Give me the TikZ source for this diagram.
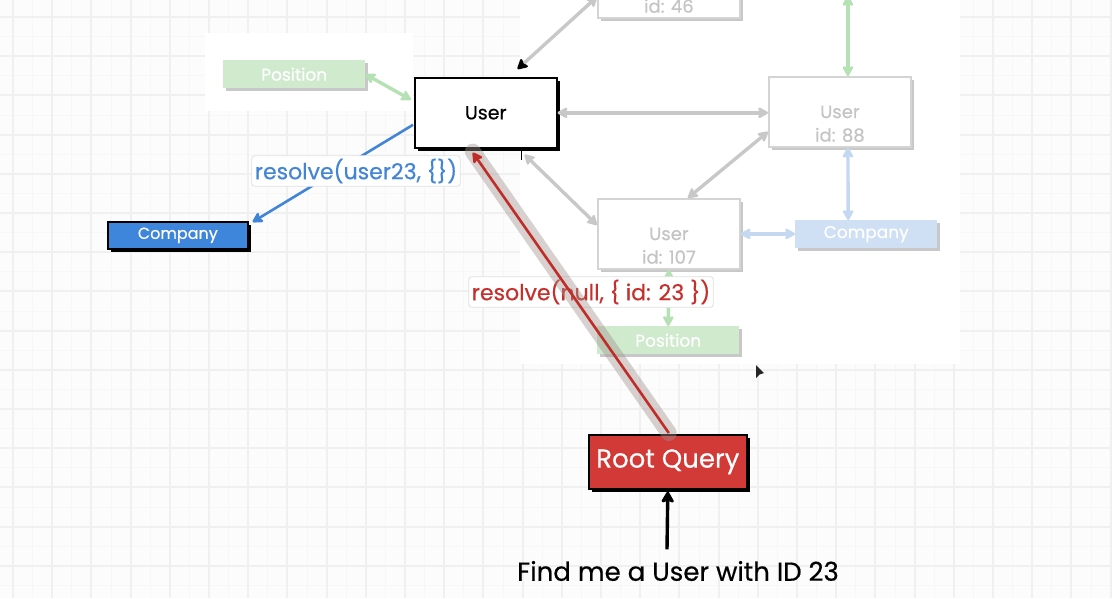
\documentclass[tikz,border=0pt]{standalone}
\usepackage{fontspec}
\setmainfont{Poppins}[FakeBold=0.45]
\usetikzlibrary{arrows.meta,calc}

\definecolor{bgpaper}{RGB}{252,252,252}
\definecolor{gridmajor}{RGB}{240,240,240}
\definecolor{gridminor}{RGB}{247,247,247}
\definecolor{fadeline}{RGB}{200,200,200}
\definecolor{fadeborder}{RGB}{212,212,212}
\definecolor{fadeshadow}{RGB}{200,200,200}
\definecolor{fadetext}{RGB}{196,196,196}
\definecolor{posfill}{RGB}{208,234,206}
\definecolor{posline}{RGB}{182,225,180}
\definecolor{compfill}{RGB}{207,224,245}
\definecolor{compline}{RGB}{196,216,242}
\definecolor{bluefill}{RGB}{62,134,220}
\definecolor{bluetext}{RGB}{66,133,214}
\definecolor{rootfill}{RGB}{209,58,54}
\definecolor{redpath}{RGB}{192,44,40}
\definecolor{redtext}{RGB}{198,48,44}
\definecolor{bandgray}{RGB}{160,146,144}
\definecolor{tagborder}{RGB}{224,224,224}

\newcommand{\fsz}[1]{\fontsize{#1}{#1}\selectfont}

\tikzset{
  hd/.tip={Stealth[length=12pt,width=13pt,inset=2.5pt,round]},
  box/.style={rectangle, inner sep=0pt, anchor=north west},
  fadebox/.style={box, draw=fadeborder, line width=1.8pt, fill=white,
    minimum width=142pt, minimum height=70pt, text=fadetext, font=\fsz{18},
    preaction={fill=fadeshadow, transform canvas={shift={(3pt,-3pt)}}}},
  idtag/.style={label={[text=fadetext, font=\fsz{18}, yshift=-23pt]center:#1}},
  posbox/.style={box, fill=posfill, minimum width=142pt, minimum height=28pt,
    text=white, font=\fsz{17}, preaction={fill=fadeshadow, transform canvas={shift={(3pt,-3pt)}}}},
  compbox/.style={box, fill=compfill, minimum width=142pt, minimum height=28pt,
    text=white, font=\fsz{17}, preaction={fill=fadeshadow, transform canvas={shift={(3pt,-3pt)}}}},
  inkbox/.style={box, draw=black, line width=1.6pt,
    preaction={fill=black, transform canvas={shift={(3pt,-3pt)}}}},
  fadelink/.style={draw=fadeline, line width=3.4pt, {hd}-{hd}},
  poslink/.style={draw=posline, line width=3.4pt, {hd}-{hd}},
  complink/.style={draw=compline, line width=3.4pt, {hd}-{hd}},
  tag/.style={rectangle, rounded corners=3pt, fill=white, draw=tagborder,
    line width=0.8pt, inner xsep=3pt, inner ysep=3pt},
}

\begin{document}
\begin{tikzpicture}[x=1pt, y=-1pt]
\useasboundingbox (0,0) rectangle (1112,598);

% paper with a squared grid
\fill[bgpaper] (0,0) rectangle (1112,598);
\foreach \i in {-1,...,28} {
  \draw[gridminor, line width=1pt] ({32.6+39.2*\i},0) -- ({32.6+39.2*\i},598);
}
\foreach \j in {-1,...,15} {
  \draw[gridminor, line width=1pt] (0,{36.6+39.2*\j}) -- (1112,{36.6+39.2*\j});
}
\foreach \i in {0,...,28} {
  \draw[gridmajor, line width=2pt] ({13+39.2*\i},0) -- ({13+39.2*\i},598);
}
\foreach \j in {0,...,15} {
  \draw[gridmajor, line width=2pt] (0,{17+39.2*\j}) -- (1112,{17+39.2*\j});
}

% blank panels pasted over the grid
\fill[white] (205,33) rectangle (413,111);
\fill[white] (520,0) rectangle (960,364);

% faded part of the graph
\node[fadebox, idtag={id: 46}] (user46) at (597,-53) {User};
\node[fadebox, idtag={id: 88}] (user88) at (768,76) {User};
\node[fadebox, idtag={id: 107}] (user107) at (597,198) {User};
\node[compbox] (compR) at (795,220) {Company};
\node[posbox] (posB) at (597,326) {Position};
\node[posbox] (posL) at (223,60) {Position};

% the user being resolved
\node[inkbox, fill=white, minimum width=142pt, minimum height=70pt,
  font=\fsz{19}] (main) at (414,77) {User};
\node[inkbox, fill=bluefill, minimum width=140pt, minimum height=27pt,
  text=white, font=\fsz{16}] (compL) at (107,221) {Company};
\node[inkbox, fill=rootfill, minimum width=158pt, minimum height=54pt,
  text=white, font=\fsz{26}] (root) at (588,434) {Root Query};

\node[font=\fsz{26}, text=black] (find) at (678,571) {Find me a User with ID 23};

% faded links between users
\draw[fadelink] (main.east) -- (main.east -| user88.west);
\draw[fadelink] ($(user88.south west)+(0,-16)$) -- ($(user107.north)+(19,0)$);
\draw[fadelink] ($(main.south east)+(-33,6)$) -- ($(user107.north west)+(0,27)$);
\draw[draw=fadeline, line width=3.4pt,
  {Stealth[length=12pt,width=13pt,inset=2.5pt,round,black]}-{hd}]
  ($(main.north east)+(-40,-8)$) -- ($(user46.west)+(0,14)$);
\draw[black, line width=1.6pt] ($(main.south east)+(-36,0)$) -- ++(0,11);

\draw[poslink] ($(user88.north)+(8,0)$) -- ($(user88.north)+(8,-80)$);
\draw[complink] ($(user88.south)+(8,0)$) -- ($(compR.north)+(-18,0)$);
\draw[complink] (user107.east) -- (user107.east -| compR.west);
\draw[poslink] (user107.south) -- (posB.north);
\draw[poslink] (posL.east) -- ($(main.west)+(-3,-13)$);

% resolver calls
\draw[bluetext, line width=2.6pt, -{hd}]
  ($(main.west)+(-1,12)$) -- ($(compL.north east)+(4,1)$);
\node[tag, text=bluetext, font=\fsz{22}] (callBlue) at (356,171) {resolve(user23, \{\})};

\node[tag, text=redtext, font=\fsz{22}] (callRed) at (591,292) {resolve(null, \{ id: 23 \})};

\draw[bandgray, opacity=0.42, line width=16pt, line cap=round]
  ($(root.north)+(1,-1)$) -- ($(main.south)+(-13,3)$);
\draw[redpath, line width=2.6pt, -{hd}]
  ($(root.north)+(1,-1)$) -- ($(main.south)+(-13,4)$);

% request entering the root query
\draw[black, line width=3.4pt, -{Stealth[length=13pt,width=15pt,inset=2.5pt,round]}]
  ($(find.north)+(-11,-8)$) -- ($(root.south)+(0,2)$);

% pointer
\fill[black!85] (756,365) -- (756,378) -- (759.5,374.5) -- (764,373) -- cycle;
\end{tikzpicture}
\end{document}
